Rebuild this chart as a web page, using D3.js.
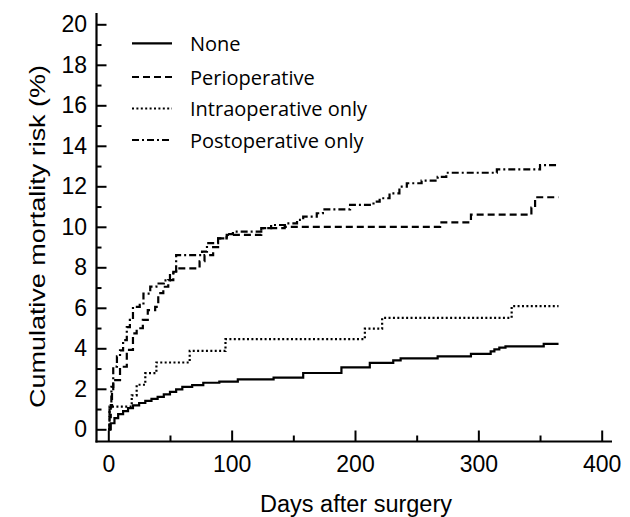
<!DOCTYPE html>
<html>
<head>
<meta charset="utf-8">
<script src="https://cdn.jsdelivr.net/npm/d3@7"></script>
<style>
  body { margin: 0; background: #fff; }
  svg { display: block; }
  .tick text { font-family: "Liberation Sans", Arial, sans-serif; font-size: 23px; fill: #000; }
  .legend text { font-family: "Open Sans", sans-serif; font-size: 20px; fill: #000; }
</style>
</head>
<body>
<div id="chart"></div>
<script>
// Kaplan-Meier style cumulative mortality, [day, risk %] at each step
const noneCurve = [[0,0],[2,0.3],[5,0.55],[8,0.75],[12,0.9],[16,1.05],[20,1.18],[25,1.3],[30,1.4],[35,1.5],[40,1.6],[45,1.72],[50,1.85],[55,1.97],[60,2.1],[68,2.18],[77,2.3],[90,2.35],[105,2.47],[134,2.55],[158,2.78],[189,3.06],[212,3.28],[231,3.4],[237,3.5],[267,3.6],[294,3.72],[310,3.85],[313,3.95],[317,4.03],[322,4.1],[353,4.22],[365,4.22]];
const periCurve = [[0,0],[1,0.6],[2,1.2],[3,1.8],[4,2.43],[9.5,3.09],[15,3.92],[20,4.74],[23,4.99],[28,5.4],[32,5.89],[38,6.05],[40.5,6.72],[44.6,7.04],[48.6,7.37],[52.7,7.78],[55,7.95],[74,8.3],[78,8.6],[85,9.0],[89,9.43],[96,9.6],[124,9.93],[143,10.0],[269,10.22],[294,10.6],[343,10.95],[346,11.46],[365,11.46]];
const intraCurve = [[0,0],[1,1.12],[19,1.68],[23,2.2],[30,2.77],[39,3.3],[66,3.87],[95,4.45],[208,4.97],[222,5.5],[327,6.08],[365,6.08]];
const postCurve = [[0,0],[1,1.1],[2.5,2.1],[4,3.1],[7,3.6],[9.5,3.9],[12,4.4],[15,5.05],[17.5,5.4],[20,6.05],[25.5,6.15],[28.5,6.7],[34,7.05],[39,7.2],[45,7.35],[50,7.7],[55,8.6],[76,8.77],[80,9.19],[89,9.43],[96,9.64],[101,9.76],[124,9.93],[132,10.09],[145,10.17],[153,10.34],[158,10.5],[169,10.67],[174,10.86],[196,11.08],[215,11.24],[220,11.41],[228,11.65],[236,11.98],[242,12.15],[254,12.28],[267,12.47],[274,12.67],[315,12.84],[350,13.05],[365,13.05]];

const seriesNames = ["None", "Perioperative", "Intraoperative only", "Postoperative only"];
const xTicks = [0, 100, 200, 300, 400];
const xMinorTicks = [50, 150, 250, 350];
const yTicks = [0, 2, 4, 6, 8, 10, 12, 14, 16, 18, 20];
const yMinorTicks = [1, 3, 5, 7, 9, 11, 13, 15, 17, 19];

const width = 630, height = 517;
const svg = d3.select("#chart").append("svg").attr("width", width).attr("height", height);

const x = d3.scaleLinear().domain([0, 400]).range([108.3, 601.7]);
const y = d3.scaleLinear().domain([0, 20]).range([429.3, 24.3]);
const axisX = 96.5, axisY = 441.5;

// axis lines (offset from the data origin)
svg.append("line").attr("x1", axisX).attr("x2", axisX).attr("y1", 13).attr("y2", axisY + 1)
  .attr("stroke", "#000").attr("stroke-width", 2.2);
svg.append("line").attr("x1", axisX - 1).attr("x2", 612).attr("y1", axisY).attr("y2", axisY)
  .attr("stroke", "#000").attr("stroke-width", 2.2);

const yAxis = svg.append("g").attr("transform", `translate(${axisX},0)`)
  .call(d3.axisLeft(y).tickValues(yTicks).tickSize(-10).tickPadding(9.5));
svg.append("g").attr("transform", `translate(${axisX},0)`)
  .call(d3.axisLeft(y).tickValues(yMinorTicks).tickSize(-5).tickFormat(""));
const xAxis = svg.append("g").attr("transform", `translate(0,${axisY})`)
  .call(d3.axisBottom(x).tickValues(xTicks).tickSize(-11).tickPadding(14.5));
svg.append("g").attr("transform", `translate(0,${axisY})`)
  .call(d3.axisBottom(x).tickValues(xMinorTicks).tickSize(-6).tickFormat(""));
svg.selectAll(".domain").remove();
svg.selectAll(".tick line").attr("stroke", "#000").attr("stroke-width", 2);

svg.append("text").attr("transform", "translate(45,236.5) rotate(-90)")
  .attr("text-anchor", "middle").attr("textLength", 343).attr("lengthAdjust", "spacingAndGlyphs")
  .style("font-family", "Liberation Sans, Arial, sans-serif").style("font-size", "22px")
  .text("Cumulative mortality risk (%)");
svg.append("text").attr("x", 356).attr("y", 511.7)
  .attr("text-anchor", "middle").attr("textLength", 192).attr("lengthAdjust", "spacingAndGlyphs")
  .style("font-family", "Liberation Sans, Arial, sans-serif").style("font-size", "23px")
  .text("Days after surgery");

const dashes = [null, "7,4", "2,2.4", "7,3,2,3"];
const curves = [noneCurve, periCurve, intraCurve, postCurve];

const line = d3.line().x((d) => x(d[0])).y((d) => y(d[1])).curve(d3.curveStepAfter);
svg.append("g").selectAll("path").data(curves).join("path")
  .attr("d", line).attr("fill", "none").attr("stroke", "#000").attr("stroke-width", 2.2)
  .attr("stroke-dasharray", (d, i) => dashes[i]);

const legend = svg.append("g").attr("class", "legend");
const rowY = [43.3, 77, 108.5, 140];
const rows = legend.selectAll("g").data(seriesNames).join("g")
  .attr("transform", (d, i) => `translate(0,${rowY[i]})`);
rows.append("line").attr("x1", 132).attr("x2", 172).attr("stroke", "#000").attr("stroke-width", 2.2)
  .attr("stroke-dasharray", (d, i) => dashes[i]);
rows.append("text").attr("x", 190).attr("y", 7.5).text((d) => d);
</script>
</body>
</html>
